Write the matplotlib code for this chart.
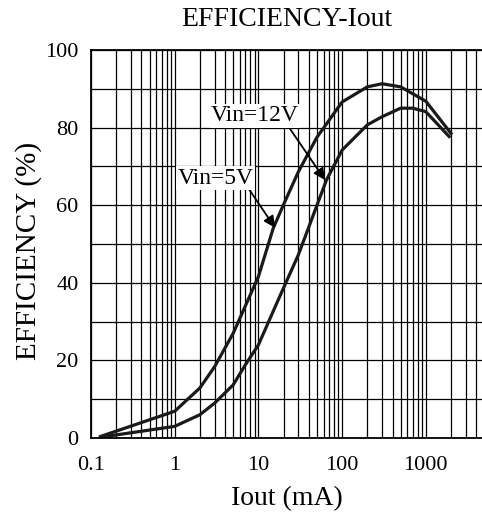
import matplotlib.pyplot as plt
from matplotlib.ticker import FixedLocator, LogLocator, NullFormatter

plt.rcParams['font.family'] = ['Liberation Serif', 'DejaVu Serif']

# Vin=5V curve
iout_5v = [0.13, 1, 2, 3, 5, 10, 15, 20, 30, 50, 100, 200, 300, 500, 1000, 2000]
eff_5v = [0.4, 6.9, 12.9, 18.4, 27.0, 41.6, 54.0, 60.2, 68.6, 77.5, 86.6, 90.5, 91.3, 90.5, 86.8, 78.5]

# Vin=12V curve
iout_12v = [0.13, 1, 2, 3, 5, 7, 10, 18, 30, 65, 100, 200, 300, 500, 700, 1000, 1900]
eff_12v = [0.2, 3.0, 6.0, 9.0, 13.7, 18.9, 24.0, 36.5, 47.2, 66.5, 74.2, 80.7, 82.8, 85.0, 85.0, 84.1, 77.7]

xticks = [0.1, 1, 10, 100, 1000]
xticklabels = ['0.1', '1', '10', '100', '1000']

fig = plt.figure(figsize=(4.82, 5.17), dpi=100)
ax = fig.add_axes([0.1888, 0.1528, 0.8112, 0.7505])

ax.plot(iout_5v, eff_5v, color='#1a1a1a', lw=2.3)
ax.plot(iout_12v, eff_12v, color='#1a1a1a', lw=2.3)

ax.set_xscale('log')
ax.set_xlim(0.1, 4690)
ax.set_ylim(0, 100)

ax.xaxis.set_major_locator(FixedLocator(xticks))
ax.set_xticklabels(xticklabels)
ax.xaxis.set_minor_locator(LogLocator(base=10, subs=range(2, 10), numticks=20))
ax.xaxis.set_minor_formatter(NullFormatter())
ax.set_yticks(range(0, 101, 20))
ax.set_yticks(range(10, 100, 20), minor=True)

ax.grid(True, which='both', color='black', lw=0.9)
ax.tick_params(which='both', length=0, labelsize=16)
ax.tick_params(axis='x', pad=13)
ax.tick_params(axis='y', pad=9)
for s in ax.spines.values():
    s.set_linewidth(1.3)
ax.spines['right'].set_visible(False)

ax.set_title('EFFICIENCY-Iout', fontsize=20, pad=17)
ax.set_xlabel('Iout (mA)', fontsize=20, labelpad=8)
ax.set_ylabel('EFFICIENCY (%)', fontsize=21)
ax.yaxis.set_label_coords(-0.125, 0.482)

box = dict(facecolor='white', edgecolor='none', pad=1)
ax.annotate('Vin=12V', xy=(62.5, 66.5), xytext=(9.1, 83), fontsize=17,
            ha='center', va='center', bbox=box,
            arrowprops=dict(arrowstyle='-|>', color='black', lw=1.3,
                            relpos=(0.88, 0), shrinkA=0, shrinkB=0))
ax.annotate('Vin=5V', xy=(15.8, 54.2), xytext=(3.1, 67), fontsize=17,
            ha='center', va='center', bbox=box,
            arrowprops=dict(arrowstyle='-|>', color='black', lw=1.3,
                            relpos=(0.93, 0), shrinkA=0, shrinkB=0))

fig.savefig('out.png', dpi=100)
